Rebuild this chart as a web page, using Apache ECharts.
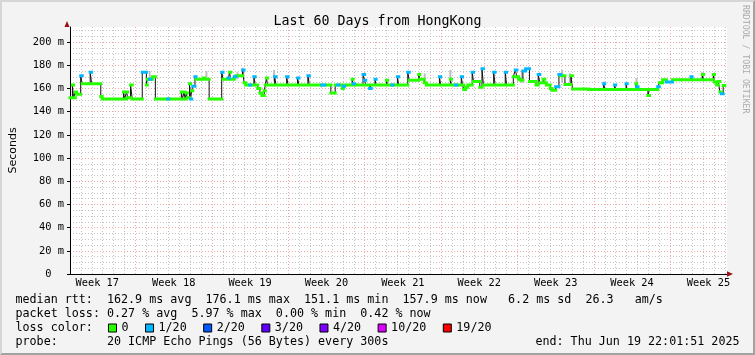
<!DOCTYPE html>
<html><head><meta charset="utf-8">
<script src="https://cdn.jsdelivr.net/npm/echarts@6/dist/echarts.min.js"></script>
<style>
html,body{margin:0;padding:0;background:#f3f3f3;}
#wrap{position:relative;width:755px;height:355px;}
#chart{width:755px;height:355px;}
#frame{position:absolute;left:0;top:0;width:755px;height:355px;box-sizing:border-box;border-left:2px solid #d6d6d6;border-top:2px solid #d6d6d6;border-right:2px solid #a3a3a3;border-bottom:2px solid #a3a3a3;pointer-events:none;}
</style></head><body>
<div id="wrap"><div id="chart"></div><div id="frame"></div></div>
<script>
// ---- data (x = days since start of the 60-day window) ----
const weekNumbers   = [17, 18, 19, 20, 21, 22, 23, 24, 25];
const weekStartDays = [6, 13, 20, 27, 34, 41, 48, 55];
const weekLabelDays = [2.5, 9.5, 16.5, 23.5, 30.5, 37.5, 44.5, 51.5, 58.5];
const yMajorTicks   = [0, 20, 40, 60, 80, 100, 120, 140, 160, 180, 200];
const lossLabels = ['0', '1/20', '2/20', '3/20', '4/20', '10/20', '19/20'];
const lossColors = ['#26ff00', '#00b8ff', '#0059ff', '#5e00ff', '#7e00ff', '#dd00ff', '#ff0000'];
// median rtt steps: [start day, rtt (ms), loss index]
const medianSteps = [
[0.00,152,0],[0.22,163,0],[0.32,152,0],[0.50,157,0],[0.60,155,0],[0.98,171,1],[1.12,164,0],
[1.85,174,1],[1.98,164,0],[2.82,153,0],[2.95,151,0],[4.90,157,0],[5.00,151,0],[5.18,157,0],
[5.28,152,0],[5.55,163,0],[5.70,151,0],[6.62,174,1],[7.00,163,0],[7.08,168,0],[7.28,168,1],
[7.40,168,0],[7.55,170,0],[7.82,151,0],[8.95,151,1],[9.05,151,0],[10.20,157,0],[10.30,151,0],
[10.45,157,0],[10.55,151,0],[10.65,156,0],[10.75,152,0],[10.95,164,0],[11.05,151,1],[11.15,158,0],
[11.25,162,1],[11.45,170,1],[11.55,168,0],[12.20,169,0],[12.35,168,0],[12.75,151,0],[13.90,174,1],
[14.02,168,0],[14.50,169,1],[14.62,174,0],[14.72,168,0],[15.05,170,1],[15.20,171,0],[15.82,176,1],
[15.95,165,0],[16.10,163,0],[16.45,163,1],[16.55,163,0],[16.85,170,1],[16.97,163,0],[17.20,160,0],
[17.40,156,0],[17.60,154,0],[17.80,158,0],[17.90,163,0],[18.00,169,0],[18.10,163,0],[18.75,170,1],
[18.88,163,0],[19.85,170,1],[19.98,163,0],
[20.85,169,1],[20.98,163,0],[21.80,171,1],[21.93,163,0],[23.05,163,1],[23.35,163,0],[23.90,156,0],
[24.30,163,0],[24.50,163,1],[24.65,163,0],[24.95,160,0],[25.05,162,1],[25.15,163,0],[25.85,168,0],
[25.95,164,1],[26.05,163,0],[26.85,172,1],[27.00,167,1],[27.10,163,0],[27.45,160,1],[27.60,163,0],
[27.95,168,1],[28.05,163,0],[29.00,167,0],[29.10,163,0],[29.50,163,1],[29.60,163,0],[30.00,170,1],
[30.12,163,0],[30.95,174,1],[31.08,167,0],[31.95,172,0],[32.05,168,0],[32.45,165,0],[32.65,163,0],
[33.85,170,1],[33.97,163,0],[34.85,168,0],[34.95,163,0],[35.30,163,1],[35.45,163,0],[35.85,170,1],
[35.97,163,0],[36.07,159,0],[36.25,161,0],[36.45,163,0],[36.85,174,1],[36.97,166,0],[37.55,161,0],
[37.75,177,1],[37.88,163,0],[38.82,174,1],[38.95,163,0],[39.88,174,1],[40.00,163,0],
[40.62,170,0],[40.80,176,1],[40.95,170,0],[41.10,168,0],[41.30,167,0],[41.50,175,1],[41.75,177,1],
[42.10,166,0],[42.70,163,0],[42.90,172,1],[43.05,165,0],[43.35,168,0],[43.50,165,0],[43.65,163,0],
[44.00,160,0],[44.15,158.5,0],[44.50,161.5,1],[44.80,172,1],[44.95,171,0],[45.35,163.5,0],[45.90,171,0],
[46.05,159.5,0],[47.50,159,0],[48.90,164,1],[49.00,159,0],[49.90,163,1],[50.00,159,0],[50.95,164,1],
[51.05,159,0],[51.85,164,0],[51.93,161.5,1],[52.05,159,0],[52.95,154,0],[53.10,159,0],[53.85,161.5,1],
[54.00,165,0],[54.30,167.5,0],[54.65,165.5,1],[55.20,167.5,0],[56.90,170,1],[57.00,167.5,0],
[57.95,172,0],[58.05,167.5,0],[58.95,172,0],[59.05,165.5,0],[59.25,163,0],[59.40,166,0],
[59.55,157,0],[59.68,155.5,1],[59.85,162.5,0]
];
const endDay = 60.0;
// smoke (ping spread) near spikes: [day, low ms, high ms]
const smokeSpikes = [
[7.3,167,175],[12.5,168,175],[15.35,168,174],[15.82,172,178],[18.7,166,176],[21.85,166,172],
[32.5,166,173],[34.85,168,176],[41.4,165,176],[45.1,165,176],[45.8,165,173],[48.9,161,166],
[51.9,162,169],[57.9,168,174],[59.0,167,173]
];
const titleText = 'Last 60 Days from HongKong';
const legendLines = [
  'median rtt:  162.9 ms avg  176.1 ms max  151.1 ms min  157.9 ms now   6.2 ms sd  26.3   am/s',
  'packet loss: 0.27 % avg  5.97 % max  0.00 % min  0.42 % now',
  'loss color:',
  'probe:       20 ICMP Echo Pings (56 Bytes) every 300s'
];
const endText = 'end: Thu Jun 19 22:01:51 2025';
const sideText = 'RRDTOOL / TOBI OETIKER';

// ---- build ----
const MONO = '"DejaVu Sans Mono", monospace';
const dailyTicks = [];
for (let d = 1; d <= 60; d++) if (weekStartDays.indexOf(d) < 0) dailyTicks.push(d);
const minorY = [];
for (let v = 5; v <= 210; v += 5) if (v % 20 !== 0) minorY.push(v);

const stepLine = medianSteps.map(s => [s[0], s[1]]);
stepLine.push([endDay, medianSteps[medianSteps.length - 1][1]]);
const segs = lossLabels.map(() => []);
medianSteps.forEach((s, i) => {
  const x1 = i + 1 < medianSteps.length ? medianSteps[i + 1][0] : endDay;
  segs[s[2]].push([s[0], s[1]], [x1, s[1]], [x1, null]);
});

const G = {left: 67, top: 27, width: 660, height: 247};
const majorLine = {color: '#f2a5a5', width: 1, type: [1, 2]};
const minorLine = {color: '#c4c4c4', width: 1, type: [1, 2]};

const series = [
  {
    type: 'custom', name: 'smoke', xAxisIndex: 0, yAxisIndex: 0, z: 1,
    data: smokeSpikes, encode: {x: 0, y: [1, 2]},
    renderItem: (params, api) => {
      const x = api.value(0);
      const p1 = api.coord([x - 0.09, api.value(2)]);
      const p2 = api.coord([x + 0.09, api.value(1)]);
      return {type: 'rect', shape: {x: p1[0], y: p1[1], width: p2[0] - p1[0], height: p2[1] - p1[1]},
              style: {fill: '#bdbdbd'}};
    }
  },
  {
    type: 'line', name: 'median', step: 'end', data: stepLine, symbol: 'none', z: 2,
    xAxisIndex: 0, yAxisIndex: 0,
    lineStyle: {color: '#111', width: 1}
  }
];
lossLabels.forEach((lab, i) => {
  series.push({
    type: 'line', name: lab, data: segs[i], symbol: 'none', z: 3, connectNulls: false,
    xAxisIndex: 0, yAxisIndex: 0,
    itemStyle: {color: lossColors[i]},
    lineStyle: {color: lossColors[i], width: 3, cap: 'square'}
  });
});

const chart = echarts.init(document.getElementById('chart'), null, {renderer: 'canvas'});
chart.setOption({
  animation: false,
  backgroundColor: '#f3f3f3',
  title: {
    text: titleText, left: 'center', top: 15, padding: 0,
    textStyle: {fontFamily: MONO, fontSize: 13.3, fontWeight: 'normal', color: '#000', lineHeight: 14}
  },
  legend: {
    data: lossLabels, icon: 'rect', itemWidth: 8, itemHeight: 8, itemGap: 16.5,
    left: 108, top: 322, padding: 0, selectedMode: false,
    itemStyle: {borderColor: '#000', borderWidth: 1},
    textStyle: {fontFamily: MONO, fontSize: 11.7, color: '#000'}
  },
  grid: Object.assign({show: true, backgroundColor: '#ffffff', borderWidth: 0, containLabel: false}, G),
  xAxis: [
    {
      type: 'value', min: 0, max: 60.2, position: 'bottom',
      axisLine: {show: true, lineStyle: {color: '#000', width: 1}},
      axisTick: {show: false, customValues: dailyTicks},
      axisLabel: {show: false},
      splitLine: {show: true, lineStyle: minorLine}
    },
    {
      type: 'value', min: 0, max: 60.2, position: 'bottom',
      axisLine: {show: false},
      axisTick: {show: false, customValues: weekStartDays},
      axisLabel: {
        show: true, customValues: weekLabelDays, margin: 4,
        fontFamily: MONO, fontSize: 10.3, color: '#000',
        formatter: v => {
          let k = 0;
          weekLabelDays.forEach((d, i) => { if (Math.abs(d - v) < Math.abs(weekLabelDays[k] - v)) k = i; });
          return 'Week ' + weekNumbers[k];
        }
      },
      splitLine: {show: true, lineStyle: majorLine}
    }
  ],
  yAxis: [
    {
      type: 'value', min: 0, max: 213, position: 'left',
      name: 'Seconds', nameLocation: 'middle', nameGap: 51, nameRotate: 90,
      nameTextStyle: {fontFamily: '"DejaVu Sans", sans-serif', fontSize: 11, color: '#000'},
      axisLine: {show: true, lineStyle: {color: '#000', width: 1}},
      axisTick: {show: true, length: 3, customValues: yMajorTicks, lineStyle: {color: '#000'}},
      axisLabel: {
        customValues: yMajorTicks, margin: 6, fontFamily: MONO, fontSize: 10.4, color: '#000',
        formatter: v => v === 0 ? '0  ' : v + ' m'
      },
      splitLine: {show: true, lineStyle: majorLine}
    },
    {
      type: 'value', min: 0, max: 213, position: 'left',
      axisLine: {show: false},
      axisTick: {show: false, customValues: minorY},
      axisLabel: {show: false},
      splitLine: {show: true, lineStyle: minorLine}
    }
  ],
  graphic: [
    {type: 'polygon', shape: {points: [[64.5, 27], [69.5, 27], [67, 21]]}, style: {fill: '#9a1010'}, z: 10},
    {type: 'polygon', shape: {points: [[727, 271.2], [727, 276.8], [733, 274]]}, style: {fill: '#9a1010'}, z: 10},
    {type: 'text', left: 15.5, top: 294, style: {text: legendLines[0], font: '11.7px ' + MONO, fill: '#000'}},
    {type: 'text', left: 15.5, top: 308.2, style: {text: legendLines[1], font: '11.7px ' + MONO, fill: '#000'}},
    {type: 'text', left: 15.5, top: 322, style: {text: legendLines[2], font: '11.7px ' + MONO, fill: '#000'}},
    {type: 'text', left: 15.5, top: 336.3, style: {text: legendLines[3], font: '11.7px ' + MONO, fill: '#000'}},
    {type: 'text', right: 15.5, top: 336.3, style: {text: endText, font: '11.7px ' + MONO, fill: '#000'}},
    {type: 'text', x: 749.5, y: 5, rotation: -Math.PI / 2,
     style: {text: sideText, font: '8.2px ' + MONO, fill: '#ababab', textAlign: 'left', textVerticalAlign: 'top'}}
  ],
  series: series
});
</script>
</body></html>
